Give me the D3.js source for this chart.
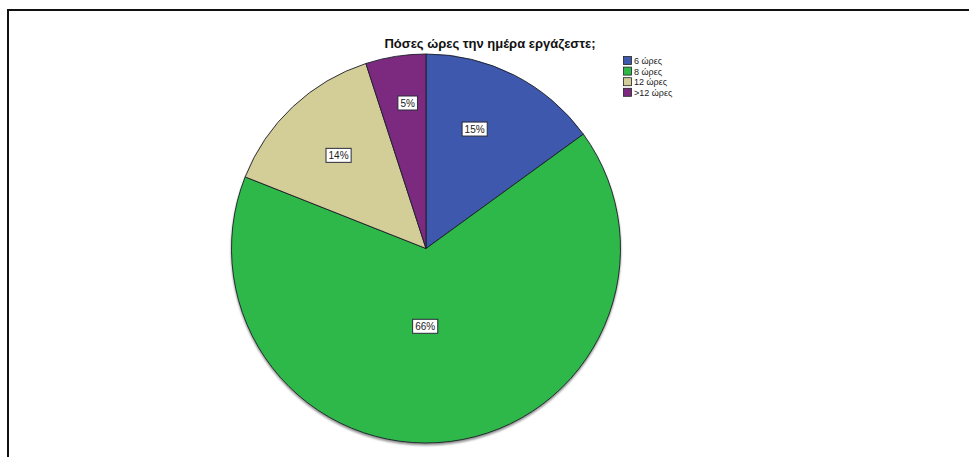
<!DOCTYPE html>
<html>
<head>
<meta charset="utf-8">
<script src="https://cdn.jsdelivr.net/npm/d3@7"></script>
<style>
  html, body { margin: 0; padding: 0; background: #fff; }
  svg { display: block; font-family: Arial, "Liberation Sans", sans-serif; }
</style>
</head>
<body>
<svg id="chart" width="969" height="457"></svg>
<script>
// Answers to "how many hours a day do you work"
const categories = ["6 ώρες", "8 ώρες", "12 ώρες", ">12 ώρες"];
const percents = [15, 66, 14, 5];
const sliceColors = ["#3e58ac", "#2eb848", "#d3ce97", "#7b2a7f"];
// where each percentage label sits inside its slice:
// share of the radius, and share of the way from the slice's start angle to its end angle
const labelRadiusShare = [0.663, 0.40, 0.657, 0.754];
const labelAngleShare = [0.41, 0.533, 0.5, 0.6];
const titleText = "Πόσες ώρες την ημέρα εργάζεστε;";

const svg = d3.select("#chart");
const W = 969, H = 457;

// frame around the chart area (left and top edges visible)
svg.append("rect")
  .attr("x", 8).attr("y", 10)
  .attr("width", W + 20).attr("height", H + 20)
  .attr("fill", "none")
  .attr("stroke", "#111")
  .attr("stroke-width", 2);

// title
svg.append("text")
  .attr("x", 490).attr("y", 48)
  .attr("text-anchor", "middle")
  .attr("font-size", 13)
  .attr("font-weight", "bold")
  .attr("fill", "#111")
  .text(titleText);

const cx = 426, cy = 248.5, R = 194.5;

const color = d3.scaleOrdinal().domain(categories).range(sliceColors);

const pie = d3.pie()
  .value(d => d.value)
  .sort(null);

const data = categories.map((c, i) => ({
  name: c, value: percents[i], rShare: labelRadiusShare[i], aShare: labelAngleShare[i]
}));
const arcs = pie(data);
const arc = d3.arc().innerRadius(0).outerRadius(R);

const g = svg.append("g").attr("transform", `translate(${cx},${cy})`);

// soft shadow along the lower rim
const defs = svg.append("defs");
const f = defs.append("filter").attr("id", "rimShadow")
  .attr("x", "-10%").attr("y", "-10%").attr("width", "120%").attr("height", "120%");
f.append("feGaussianBlur").attr("in", "SourceAlpha").attr("stdDeviation", 1.2);
f.append("feOffset").attr("dx", 0).attr("dy", 1.5).attr("result", "off");
f.append("feComponentTransfer").append("feFuncA").attr("type", "linear").attr("slope", 0.45);
const fm = f.append("feMerge");
fm.append("feMergeNode");
fm.append("feMergeNode").attr("in", "SourceGraphic");

const slices = g.append("g").attr("filter", "url(#rimShadow)");
slices.selectAll("path")
  .data(arcs)
  .join("path")
  .attr("d", arc)
  .attr("fill", d => color(d.data.name))
  .attr("stroke", "#1e1e2a")
  .attr("stroke-width", 0.9)
  .attr("stroke-linejoin", "round");

// percentage labels in white boxes
const labels = g.append("g").selectAll("g")
  .data(arcs)
  .join("g")
  .attr("transform", d => {
    const a = d.startAngle + (d.endAngle - d.startAngle) * d.data.aShare;
    const r = R * d.data.rShare;
    return `translate(${Math.sin(a) * r},${-Math.cos(a) * r})`;
  });

labels.each(function(d) {
  const sel = d3.select(this);
  const txt = sel.append("text")
    .attr("text-anchor", "middle")
    .attr("dy", "0.36em")
    .attr("font-size", 10)
    .attr("fill", "#222")
    .text(d.data.value + "%");
  const bb = txt.node().getBBox();
  sel.insert("rect", "text")
    .attr("x", bb.x - 2.5).attr("y", -7)
    .attr("width", bb.width + 5).attr("height", 14)
    .attr("fill", "#fff")
    .attr("stroke", "#2a2a3a")
    .attr("stroke-width", 1);
});

// legend
const legend = svg.append("g").attr("transform", "translate(623,56)");
const rows = legend.selectAll("g")
  .data(categories)
  .join("g")
  .attr("transform", (d, i) => `translate(0,${i * 10.6})`);
rows.append("rect")
  .attr("x", 0.5).attr("y", 0.5)
  .attr("width", 8).attr("height", 8)
  .attr("fill", d => color(d))
  .attr("stroke", "#222")
  .attr("stroke-width", 0.8);
rows.append("text")
  .attr("x", 11).attr("y", 8)
  .attr("font-size", 9)
  .attr("fill", "#222")
  .text(d => d);
</script>
</body>
</html>
